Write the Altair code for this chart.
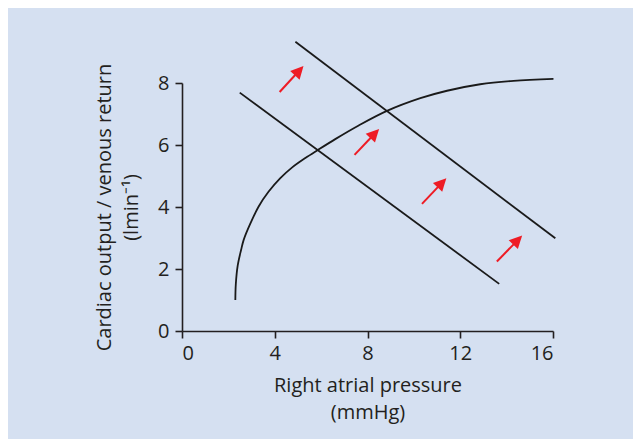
import altair as alt
import pandas as pd
import math

# Cardiac output curve
co_x = [2.30, 2.32, 2.40, 2.55, 2.66, 2.95, 3.30, 3.73, 4.24, 4.74, 5.32, 5.86, 6.61, 7.62, 8.84, 10.28, 11.43, 12.86, 14.30, 16.02]
co_y = [1.00, 1.50, 2.10, 2.62, 2.94, 3.47, 4.01, 4.49, 4.93, 5.27, 5.58, 5.84, 6.19, 6.63, 7.10, 7.51, 7.75, 7.96, 8.07, 8.13]

# Venous return lines (start, end)
vr_lines = ["baseline", "shifted"]
vr_x1 = [2.49, 4.89]
vr_y1 = [7.69, 9.33]
vr_x2 = [13.68, 16.1]
vr_y2 = [1.52, 2.99]

# Arrows (tail -> tip)
ar_x1 = [4.21, 7.44, 10.35, 13.58]
ar_y1 = [7.71, 5.68, 4.10, 2.24]
ar_x2 = [5.24, 8.50, 11.40, 14.67]
ar_y2 = [8.55, 6.52, 4.93, 3.08]

x_ticks = [0, 4, 8, 12, 16]
y_ticks = [0, 2, 4, 6, 8]

W, H = 371, 248
XMAX, YMAX = 16, 8

FONT = "Open Sans"
TXT = "#231f20"
BG = "#d5e0f1"
RED = "#ee1c25"

co = pd.DataFrame({"x": co_x, "y": co_y, "o": range(len(co_x))})
vr = pd.DataFrame({"name": vr_lines, "x": vr_x1, "y": vr_y1, "x2": vr_x2, "y2": vr_y2})

# arrow geometry in pixel space for rotation angle and shaft end
rows = []
for a, b, c, d in zip(ar_x1, ar_y1, ar_x2, ar_y2):
    dxp = (c - a) * W / XMAX
    dyp = -(d - b) * H / YMAX
    ang = math.degrees(math.atan2(dxp, -dyp)) % 360
    rows.append({"x": a, "y": b, "xt": c, "yt": d,
                 "xs": a + 0.7 * (c - a), "ys": b + 0.7 * (d - b),
                 "ang": ang})
ar = pd.DataFrame(rows)

xs = alt.Scale(domain=[0, XMAX], nice=False, zero=False)
ys = alt.Scale(domain=[0, YMAX], nice=False, zero=False)

FS = 20

xaxis = alt.Axis(values=x_ticks, title=["Right atrial pressure", "(mmHg)"],
                 grid=False, domainColor=TXT, tickColor=TXT, domainWidth=1.6, tickWidth=1.6,
                 tickSize=7, labelPadding=5, labelFont=FONT, labelFontSize=FS,
                 labelColor=TXT, titleFont=FONT, titleFontSize=FS, titleFontWeight="normal",
                 titleColor=TXT, titleLineHeight=27, titleBaseline="alphabetic",
                 titleAnchor="middle", titleX=W / 2, titleY=60, titleAlign="center")
yaxis = alt.Axis(values=y_ticks, title=["Cardiac output / venous return", "(lmin⁻¹)"],
                 grid=False, domainColor=TXT, tickColor=TXT, domainWidth=1.6, tickWidth=1.6,
                 tickSize=7, labelPadding=6, labelFont=FONT, labelFontSize=FS,
                 labelColor=TXT, titleFont=FONT, titleFontSize=FS, titleFontWeight="normal",
                 titleColor=TXT, titleLineHeight=27, titleBaseline="alphabetic",
                 titleAngle=-90, titleX=-72, titleY=H / 2, titleAlign="center")

curve = alt.Chart(co).mark_line(color="#1a1a1a", strokeWidth=1.8, interpolate="catmull-rom").encode(
    x=alt.X("x:Q", scale=xs, axis=xaxis),
    y=alt.Y("y:Q", scale=ys, axis=yaxis),
    order="o:Q",
)

lines = alt.Chart(vr).mark_rule(color="#1a1a1a", strokeWidth=1.8).encode(
    x=alt.X("x:Q", scale=xs), y=alt.Y("y:Q", scale=ys), x2="x2:Q", y2="y2:Q"
)

shafts = alt.Chart(ar).mark_rule(color=RED, strokeWidth=2).encode(
    x=alt.X("x:Q", scale=xs), y=alt.Y("y:Q", scale=ys), x2="xs:Q", y2="ys:Q"
)

heads = alt.Chart(ar).mark_point(
    shape="M0,0L-0.5,1L0.5,1Z", filled=True, color=RED, opacity=1, size=650, strokeWidth=0
).encode(
    x=alt.X("xt:Q", scale=xs), y=alt.Y("yt:Q", scale=ys), angle=alt.Angle("ang:Q", scale=None)
)

chart = alt.layer(curve, lines, shafts, heads).properties(
    width=W, height=H, background=BG,
    autosize=alt.AutoSizeParams(type="none"),
    padding={"left": 174, "top": 75, "right": 80, "bottom": 108},
).configure_view(stroke=None)

chart.save("out.html", embed_options={"renderer": "svg", "actions": False})
